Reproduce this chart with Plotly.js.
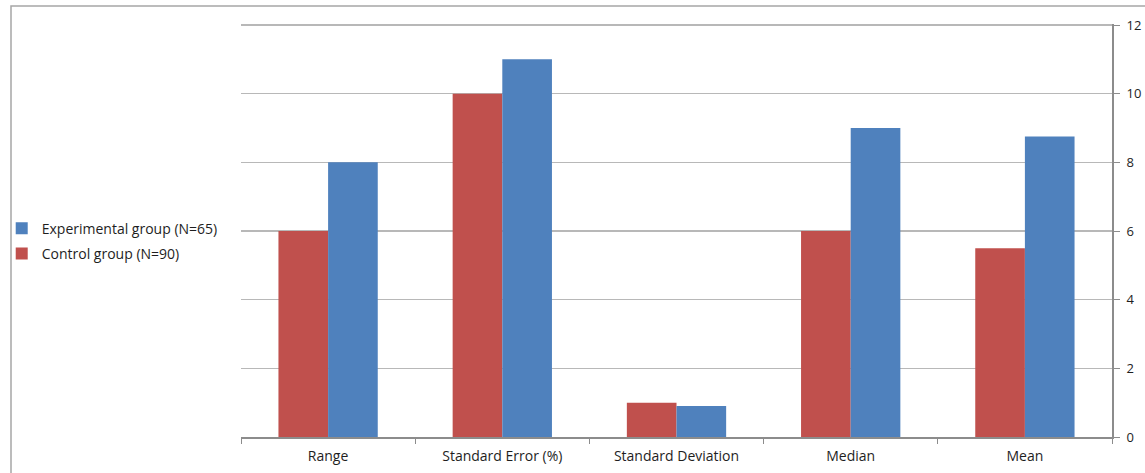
<!DOCTYPE html>
<html>
<head>
<meta charset="utf-8">
<script src="https://cdn.plot.ly/plotly-3.0.1.min.js"></script>
<style>
  html, body { margin: 0; padding: 0; background: #ffffff; }
  #chart { width: 1145px; height: 473px; }
</style>
</head>
<body>
<div id="chart"></div>
<script>
// Descriptive statistics for the two groups
const categories = ["Range", "Standard Error (%)", "Standard Deviation", "Median", "Mean"];
const controlValues = [6, 10, 1.0, 6, 5.5];
const experimentalValues = [8, 11, 0.9, 9, 8.75];
const controlName = "Control group (N=90)";
const experimentalName = "Experimental group (N=65)";
const yTicks = [0, 2, 4, 6, 8, 10, 12];

const fontFamily = "'Open Sans', 'Noto Sans', sans-serif";
const textColor = "#1e1e1e";

const traces = [
  {
    type: "bar",
    name: controlName,
    x: categories,
    y: controlValues,
    marker: { color: "#C0504D" },
    legendgroup: "control",
    legendrank: 2,
    hoverinfo: "x+y+name"
  },
  {
    type: "bar",
    name: experimentalName,
    x: categories,
    y: experimentalValues,
    marker: { color: "#4F81BD" },
    legendgroup: "experimental",
    legendrank: 1,
    hoverinfo: "x+y+name"
  }
];

const layout = {
  width: 1145,
  height: 473,
  margin: { l: 241, r: 33, t: 24, b: 36, pad: 0 },
  paper_bgcolor: "#ffffff",
  plot_bgcolor: "#ffffff",
  font: { family: fontFamily, size: 14, color: textColor },
  barmode: "group",
  bargap: 0.43,
  bargroupgap: 0,
  showlegend: true,
  legend: {
    xref: "container",
    yref: "container",
    x: 0.0015,
    xanchor: "left",
    y: 0.49,
    yanchor: "middle",
    traceorder: "grouped",
    tracegroupgap: 4,
    itemwidth: 30,
    font: { family: fontFamily, size: 14, color: textColor },
    bgcolor: "rgba(0,0,0,0)"
  },
  xaxis: {
    type: "category",
    showgrid: false,
    showline: true,
    linecolor: "#8c8c8c",
    linewidth: 2,
    ticks: "outside",
    tickson: "boundaries",
    ticklen: 5,
    tickcolor: "#8c8c8c",
    tickwidth: 1,
    ticklabelstandoff: 5,
    tickfont: { family: fontFamily, size: 14, color: textColor },
    fixedrange: true
  },
  yaxis: {
    side: "right",
    range: [0, 12.03],
    tickvals: yTicks,
    ticktext: yTicks.map(String),
    showgrid: true,
    gridcolor: "#b8b8b8",
    gridwidth: 1.5,
    zeroline: false,
    showline: true,
    linecolor: "#8c8c8c",
    linewidth: 2,
    ticks: "outside",
    ticklen: 6,
    tickcolor: "#8c8c8c",
    tickwidth: 1,
    ticklabelstandoff: 4,
    tickfont: { family: fontFamily, size: 13, color: textColor },
    fixedrange: true
  },
  shapes: [
    {
      // outer frame of the chart area
      type: "rect",
      xref: "paper",
      yref: "paper",
      x0: (11 - 241) / 871,
      x1: (1160 - 241) / 871,
      y0: (437 - 490) / 413,
      y1: (437 - 6) / 413,
      line: { color: "#a6a6a6", width: 1.5 },
      fillcolor: "rgba(0,0,0,0)",
      layer: "below"
    }
  ]
};

Plotly.newPlot("chart", traces, layout, { displayModeBar: false, staticPlot: true });
</script>
</body>
</html>
